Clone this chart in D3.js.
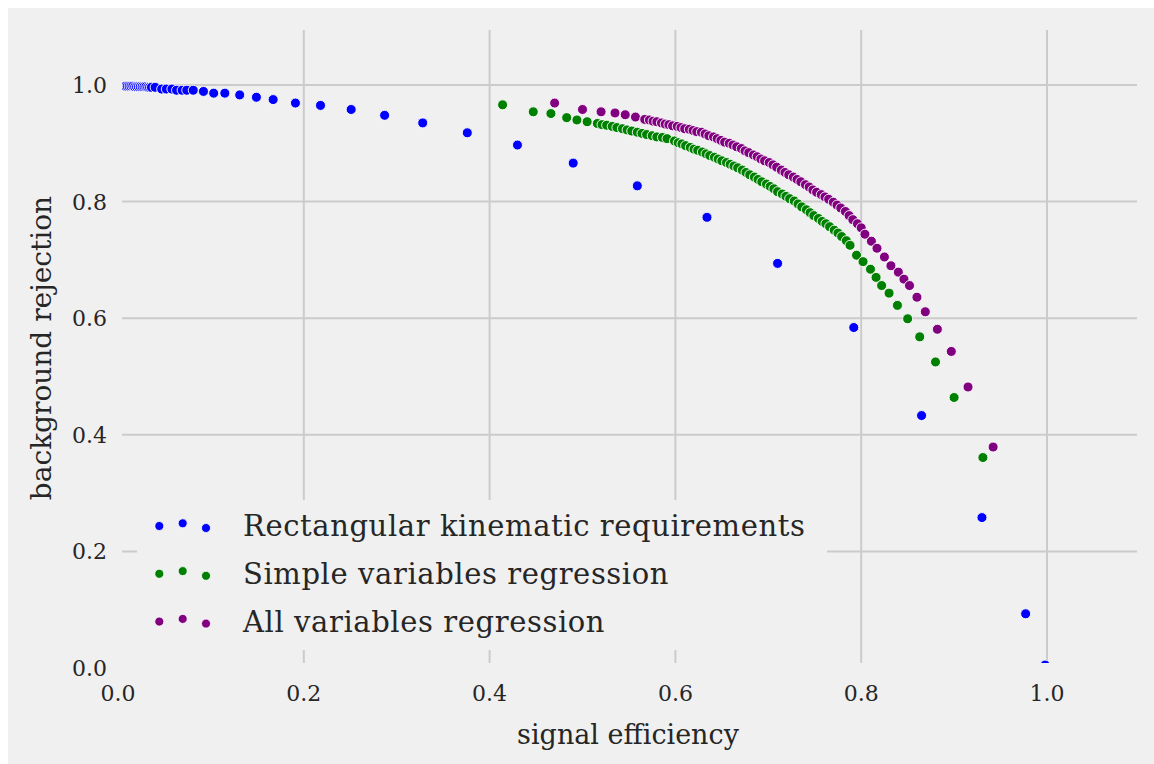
<!DOCTYPE html>
<html lang="en">

<head>
    <meta charset="utf-8">
    <title>ROC curves</title>
    <script src="https://d3js.org/d3.v7.min.js"></script>
    <style>
        body { margin: 0; background: #ffffff; }
        text { font-family: "DejaVu Serif", serif; fill: #262626; }
    </style>
</head>

<body>
    <div id="chart"></div>

    <script>
        // signal efficiency / background rejection pairs
        var rectX = [0.008, 0.010, 0.012, 0.014, 0.016, 0.018, 0.020, 0.022, 0.024, 0.026, 0.028, 0.030, 0.032, 0.034, 0.036,
            0.040, 0.047, 0.052, 0.058, 0.063, 0.069, 0.074, 0.081, 0.092, 0.103, 0.115, 0.131, 0.149, 0.167, 0.191,
            0.218, 0.251, 0.287, 0.328, 0.376, 0.430, 0.490, 0.559, 0.634, 0.710, 0.792, 0.865, 0.930, 0.977, 0.998]
        var rectY = [0.998, 0.998, 0.998, 0.998, 0.998, 0.997, 0.997, 0.997, 0.997, 0.997, 0.997, 0.997, 0.996, 0.996, 0.996,
            0.996, 0.993, 0.993, 0.993, 0.991, 0.991, 0.991, 0.991, 0.989, 0.986, 0.986, 0.983, 0.979, 0.975, 0.969,
            0.965, 0.958, 0.948, 0.935, 0.918, 0.897, 0.866, 0.827, 0.773, 0.694, 0.584, 0.433, 0.258, 0.093, 0.005]

        var simpleX = [0.000, 0.414, 0.447, 0.466, 0.483, 0.494, 0.505, 0.516, 0.521, 0.526, 0.532, 0.537, 0.543, 0.548,
            0.553, 0.559, 0.564, 0.569, 0.575, 0.580, 0.586, 0.591, 0.599, 0.603, 0.607, 0.611, 0.616, 0.620, 0.624,
            0.629, 0.633, 0.637, 0.642, 0.646, 0.650, 0.655, 0.659, 0.663, 0.667, 0.672, 0.676, 0.680, 0.685, 0.689,
            0.693, 0.698, 0.702, 0.706, 0.710, 0.715, 0.719, 0.723, 0.728, 0.732, 0.736, 0.741, 0.745, 0.749, 0.754,
            0.758, 0.762, 0.766, 0.771, 0.775, 0.779, 0.784, 0.788, 0.795, 0.802, 0.810, 0.816, 0.822, 0.830, 0.839,
            0.850, 0.863, 0.880, 0.900, 0.931]
        var simpleY = [1.000, 0.966, 0.954, 0.951, 0.944, 0.940, 0.937, 0.934, 0.932, 0.931, 0.929, 0.927, 0.925, 0.923,
            0.921, 0.919, 0.917, 0.915, 0.913, 0.911, 0.910, 0.908, 0.904, 0.901, 0.899, 0.896, 0.893, 0.890, 0.888,
            0.885, 0.882, 0.879, 0.876, 0.873, 0.870, 0.867, 0.864, 0.861, 0.858, 0.854, 0.850, 0.846, 0.842, 0.838,
            0.834, 0.830, 0.826, 0.822, 0.817, 0.813, 0.809, 0.805, 0.801, 0.796, 0.791, 0.786, 0.781, 0.776, 0.771,
            0.766, 0.762, 0.757, 0.751, 0.746, 0.740, 0.733, 0.725, 0.708, 0.697, 0.684, 0.670, 0.656, 0.643, 0.622,
            0.599, 0.568, 0.525, 0.464, 0.361]

        var allX = [0.000, 0.470, 0.500, 0.520, 0.535, 0.546, 0.557, 0.567, 0.572, 0.576, 0.580, 0.585, 0.589, 0.593,
            0.597, 0.602, 0.606, 0.610, 0.615, 0.619, 0.623, 0.628, 0.632, 0.636, 0.641, 0.645, 0.649, 0.653, 0.658,
            0.662, 0.666, 0.671, 0.675, 0.679, 0.684, 0.688, 0.692, 0.696, 0.701, 0.705, 0.709, 0.714, 0.718, 0.722,
            0.727, 0.731, 0.735, 0.740, 0.744, 0.748, 0.752, 0.757, 0.761, 0.765, 0.770, 0.774, 0.778, 0.783, 0.787,
            0.791, 0.796, 0.800, 0.804, 0.811, 0.817, 0.825, 0.832, 0.840, 0.846, 0.852, 0.860, 0.869, 0.882, 0.897,
            0.915, 0.942]
        var allY = [1.000, 0.969, 0.958, 0.954, 0.952, 0.949, 0.945, 0.941, 0.940, 0.938, 0.937, 0.935, 0.933, 0.932,
            0.930, 0.929, 0.927, 0.925, 0.924, 0.922, 0.920, 0.919, 0.916, 0.913, 0.911, 0.908, 0.905, 0.902, 0.900,
            0.897, 0.894, 0.891, 0.887, 0.884, 0.880, 0.877, 0.873, 0.870, 0.867, 0.863, 0.859, 0.854, 0.850, 0.846,
            0.842, 0.838, 0.834, 0.829, 0.825, 0.820, 0.816, 0.812, 0.808, 0.804, 0.799, 0.794, 0.789, 0.783, 0.776,
            0.769, 0.762, 0.755, 0.744, 0.732, 0.720, 0.705, 0.690, 0.679, 0.667, 0.656, 0.636, 0.611, 0.581, 0.543,
            0.482, 0.379]

        var seriesNames = ["Rectangular kinematic requirements", "Simple variables regression", "All variables regression"]
        var seriesColors = ["#0000ff", "#008000", "#800080"]
        var xTicks = [0.0, 0.2, 0.4, 0.6, 0.8, 1.0]
        var yTicks = [0.0, 0.2, 0.4, 0.6, 0.8, 1.0]
        var xTitle = "signal efficiency"
        var yTitle = "background rejection"

        var width = 1154
        var height = 764
        var plot = { left: 122, right: 1137, top: 30, bottom: 663 }

        var x = d3.scaleLinear().domain([0, 1]).range([118, 1047])
        var y = d3.scaleLinear().domain([0, 1]).range([668, 85])

        var svg = d3.select("#chart")
            .append("svg")
            .attr("width", width)
            .attr("height", height)

        // grey figure background with the thin white border top/left
        svg.append("rect")
            .attr("x", 8).attr("y", 8)
            .attr("width", width - 8).attr("height", height - 8)
            .attr("fill", "#f0f0f0")

        svg.append("clipPath").attr("id", "plotclip")
            .append("rect")
            .attr("x", plot.left).attr("y", plot.top)
            .attr("width", plot.right - plot.left).attr("height", plot.bottom - plot.top)

        var grid = svg.append("g").attr("clip-path", "url(#plotclip)")
        grid.selectAll(".vgrid")
            .data(xTicks)
            .enter()
            .append("line")
            .attr("x1", function (d) { return x(d) })
            .attr("x2", function (d) { return x(d) })
            .attr("y1", plot.top)
            .attr("y2", plot.bottom)
            .attr("stroke", "#cbcbcb")
            .attr("stroke-width", 2)
        grid.selectAll(".hgrid")
            .data(yTicks)
            .enter()
            .append("line")
            .attr("x1", plot.left)
            .attr("x2", plot.right)
            .attr("y1", function (d) { return y(d) })
            .attr("y2", function (d) { return y(d) })
            .attr("stroke", "#cbcbcb")
            .attr("stroke-width", 2)

        // tick labels
        var fmt = d3.format(".1f")
        svg.selectAll(".xtick")
            .data(xTicks)
            .enter()
            .append("text")
            .attr("x", function (d) { return x(d) })
            .attr("y", 701)
            .attr("text-anchor", "middle")
            .style("font-size", "22px")
            .text(fmt)
        svg.selectAll(".ytick")
            .data(yTicks)
            .enter()
            .append("text")
            .attr("x", 107)
            .attr("y", function (d) { return y(d) + 8 })
            .attr("text-anchor", "end")
            .style("font-size", "22px")
            .text(fmt)

        svg.append("text")
            .attr("x", 628)
            .attr("y", 744)
            .attr("text-anchor", "middle")
            .style("font-size", "27px")
            .text(xTitle)
        svg.append("text")
            .attr("transform", "translate(51,348) rotate(-90)")
            .attr("text-anchor", "middle")
            .style("font-size", "28px")
            .text(yTitle)

        // scatter series
        var series = [
            { xs: allX, ys: allY, color: seriesColors[2] },
            { xs: simpleX, ys: simpleY, color: seriesColors[1] },
            { xs: rectX, ys: rectY, color: seriesColors[0] }
        ]
        var pts = svg.append("g").attr("clip-path", "url(#plotclip)")
        series.forEach(function (s) {
            pts.append("g")
                .selectAll("circle")
                .data(d3.range(s.xs.length))
                .enter()
                .append("circle")
                .attr("cx", function (i) { return x(s.xs[i]) })
                .attr("cy", function (i) { return y(s.ys[i]) })
                .attr("r", 5)
                .attr("fill", s.color)
                .attr("stroke", "#ffffff")
                .attr("stroke-width", 0.9)
        })

        // legend
        var legend = svg.append("g")
        legend.append("rect")
            .attr("x", 137).attr("y", 500)
            .attr("width", 690).attr("height", 150)
            .attr("fill", "#f0f0f0")
        var markerDx = [159.3, 182.7, 206]
        var markerDy = [0, -2.7, 2]
        var rows = legend.selectAll(".row")
            .data(seriesNames)
            .enter()
            .append("g")
            .attr("transform", function (d, i) { return "translate(0," + (526 + i * 47.8) + ")" })
        rows.each(function (d, i) {
            var row = d3.select(this)
            row.selectAll("circle")
                .data(markerDx)
                .enter()
                .append("circle")
                .attr("cx", function (m) { return m })
                .attr("cy", function (m, j) { return markerDy[j] })
                .attr("r", 4.5)
                .attr("fill", seriesColors[i])
                .attr("stroke", "#ffffff")
                .attr("stroke-width", 0.8)
        })
        rows.append("text")
            .attr("x", 243)
            .attr("y", 10)
            .style("font-size", "29px")
            .style("letter-spacing", "0.6px")
            .text(function (d) { return d })
    </script>

</body>

</html>
